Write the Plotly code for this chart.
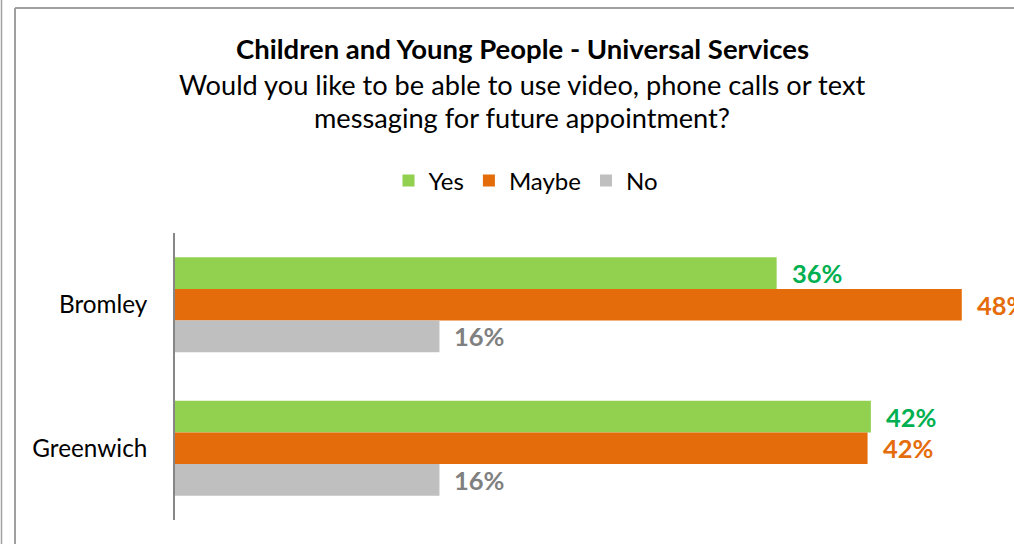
import plotly.graph_objects as go

categories = ["Bromley", "Greenwich"]
series_names = ["Yes", "Maybe", "No"]
yes_vals = [36.4, 42.1]
maybe_vals = [47.6, 41.9]
no_vals = [16.0, 16.0]
bar_colors = ["#92D050", "#E46C0A", "#BFBFBF"]
label_colors = ["#00B050", "#E46C0A", "#808080"]

title_text = "Children and Young People - Universal Services"
subtitle_lines = ["Would you like to be able to use video, phone calls or text",
                  "messaging for future appointment?"]

FONT = "Lato"
W, H = 1014, 544
L, T, B = 175, 233, 24
plot_w = W - L
plot_h = H - T - B
x_max = 50.76

def py(pix):
    return (H - B - pix) / plot_h

def px(pix):
    return (pix - L) / plot_w

fig = go.Figure()
all_vals = [yes_vals, maybe_vals, no_vals]
for name, vals, col in zip(series_names, all_vals, bar_colors):
    fig.add_trace(go.Bar(
        name=name, y=categories, x=vals, orientation="h",
        marker=dict(color=col, line=dict(width=0)),
        hoverinfo="x+y", cliponaxis=False,
    ))

annotations = []
offsets = [-1, 0, 1]
for si, (vals, lc) in enumerate(zip(all_vals, label_colors)):
    for ci, cat in enumerate(categories):
        annotations.append(dict(
            x=vals[ci], y=ci + offsets[si] * 0.662 / 3, xref="x", yref="y",
            text=f"<b>{round(vals[ci])}%</b>", showarrow=False,
            xanchor="left", yanchor="middle", xshift=13,
            font=dict(family=FONT, size=25.5, color=lc),
        ))

annotations.append(dict(x=px(522), y=py(48), xref="paper", yref="paper",
                        text=f"<b>{title_text}</b>", showarrow=False,
                        xanchor="center", yanchor="middle",
                        font=dict(family=FONT, size=27.5, color="#000000")))
for i, line in enumerate(subtitle_lines):
    annotations.append(dict(x=px(522), y=py(84 + 33 * i), xref="paper", yref="paper",
                            text=line, showarrow=False,
                            xanchor="center", yanchor="middle",
                            font=dict(family=FONT, size=27.2, color="#000000")))

shapes = [
    dict(type="rect", xref="paper", yref="paper", x0=px(1003), x1=px(W + 10),
         y0=py(10), y1=py(H + 10), line=dict(width=0), fillcolor="white",
         layer="below"),
    dict(type="line", xref="paper", yref="paper", x0=px(15), x1=px(15),
         y0=py(8), y1=py(H), line=dict(color="#A0A0A0", width=2)),
    dict(type="line", xref="paper", yref="paper", x0=px(15), x1=px(W),
         y0=py(8), y1=py(8), line=dict(color="#A0A0A0", width=2)),
    dict(type="line", xref="paper", yref="paper", x0=px(1.5), x1=px(1.5),
         y0=py(0), y1=py(H), line=dict(color="#A0A0A0", width=1.5)),
]

fig.update_layout(
    width=W, height=H,
    margin=dict(l=L, r=0, t=T, b=B, pad=0),
    paper_bgcolor="white", plot_bgcolor="white",
    barmode="group", bargap=0.338, bargroupgap=0,
    font=dict(family=FONT, size=24, color="#000000"),
    showlegend=True,
    legend=dict(orientation="h", x=px(526), xanchor="center", y=py(181), yanchor="middle",
                font=dict(family=FONT, size=24, color="#000000"),
                traceorder="normal", itemwidth=30, bgcolor="rgba(0,0,0,0)"),
    xaxis=dict(range=[0, x_max], showgrid=False, zeroline=False, showline=False,
               showticklabels=False, ticks="", fixedrange=True),
    yaxis=dict(autorange="reversed", showgrid=False, zeroline=False, showline=True,
               linecolor="#868686", linewidth=1.5, ticks="", ticklabelstandoff=21,
               tickfont=dict(family=FONT, size=24.3, color="#000000")),
    annotations=annotations,
    shapes=shapes,
)

fig.write_html("out.html", config={"displayModeBar": False},
               post_script="document.body.style.margin='0px';document.body.style.overflow='hidden';"
                           "document.documentElement.style.overflow='hidden';")
